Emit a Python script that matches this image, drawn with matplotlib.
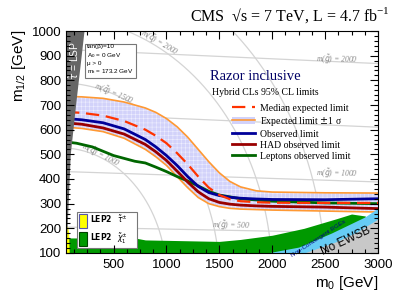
"""Razor inclusive mSUGRA exclusion plot, CMS 7 TeV 4.7 fb-1."""
import numpy as np
import matplotlib
matplotlib.use("Agg")
import matplotlib.pyplot as plt
from matplotlib.lines import Line2D
from matplotlib.patches import Patch

plt.rcParams["font.family"] = ["Liberation Sans", "DejaVu Sans"]
plt.rcParams["hatch.linewidth"] = 0.4

# limit curves (m0, m1/2) in GeV
m0_lim = [50, 200, 400, 600, 800, 900, 1000, 1100, 1200, 1300, 1400, 1500, 1600, 1700, 1850, 2000, 2500, 3000]
exp_up = [735, 733, 727, 712, 688, 670, 645, 612, 570, 520, 470, 425, 390, 368, 352, 347, 344, 343]
exp_med = [672, 668, 657, 635, 600, 575, 545, 505, 460, 410, 365, 335, 318, 310, 306, 304, 303, 303]
exp_dn = [610, 605, 592, 565, 520, 490, 455, 410, 365, 325, 300, 288, 281, 278, 276, 274, 270, 266]
obs = [645, 640, 628, 603, 560, 530, 495, 455, 410, 370, 345, 333, 326, 322, 319, 317, 316, 320]
had = [628, 622, 607, 582, 540, 510, 475, 432, 388, 348, 320, 305, 298, 294, 291, 289, 286, 280]

m0_lep = [55, 150, 300, 500, 700, 800, 900, 1000, 1100, 1200, 1300, 1400, 1500, 1700, 2000, 2500, 3000]
lep = [550, 545, 530, 495, 472, 465, 448, 430, 410, 392, 372, 350, 335, 320, 310, 303, 300]

# excluded / unphysical regions
lsp_m12 = [100, 300, 500, 700, 850, 1000]
lsp_m0 = [50, 70, 90, 140, 180, 220]
stau_m0 = [50, 85, 80, 70, 50]
stau_m12 = [100, 100, 180, 205, 210]
chi_m0 = [50, 700, 800, 1500, 1700, 2000, 2300, 2600, 2750, 2880]
chi_top = [161, 161, 153, 147, 155, 172, 200, 238, 258, 250]
rge_m0 = [1950, 2250, 2560, 2875, 3000]
rge_top = [100, 124, 181, 246, 282]
ewsb_m0 = [2300, 2600, 2800, 3000]
ewsb_top = [100, 145, 185, 238]

# iso-mass guide lines
squark_masses = [1000, 1500, 2000, 2500]
squark_coef = 3.61
gluino_masses = [500, 1000, 1500, 2000]
gluino_left = [205, 430, 665, 925]
gluino_right = [180, 388, 610, 868]

fig = plt.figure(figsize=(4.11, 2.95), dpi=100)
ax = fig.add_axes([0.1606, 0.1424, 0.7591, 0.7525])
ax.set_xlim(50, 3000)
ax.set_ylim(100, 1000)

guide = "#d4d4d4"
for q in squark_masses:
    x = np.linspace(50, q, 300)
    y = np.sqrt(np.clip(q**2 - x**2, 0, None) / squark_coef)
    ax.plot(x, y, color=guide, lw=0.9, zorder=1)
for g, yl, yr in zip(gluino_masses, gluino_left, gluino_right):
    ax.plot([50, 3000], [yl, yr], color=guide, lw=0.9, zorder=1)

lab = dict(color="#888888", fontsize=5.5, family="Liberation Serif", style="italic", zorder=1.5)
ax.text(930, 952, r"m($\tilde{q}$) = 2000", rotation=-31, ha="center", va="center", **lab)
ax.text(500, 745, r"m($\tilde{q}$) = 1500", rotation=-23, ha="center", va="center", **lab)
ax.text(380, 495, r"m($\tilde{q}$) = 1000", rotation=-27, ha="center", va="center", **lab)
ax.text(2610, 884, r"m($\tilde{g}$) = 2000", rotation=-1.5, ha="center", va="center", **lab)
ax.text(2610, 422, r"m($\tilde{g}$) = 1000", rotation=-1.5, ha="center", va="center", **lab)
ax.text(1610, 212, r"m($\tilde{g}$) = 500", rotation=-1.5, ha="center", va="center", **lab)

# expected band
band = "#d2d2fa"
ax.fill_between(m0_lim, exp_dn, exp_up, facecolor=band, edgecolor="none", zorder=2)
ax.fill_between(m0_lim, exp_dn, exp_up, facecolor="none", edgecolor="#eeeeff", hatch="++++", lw=0, zorder=2.1)
ax.plot(m0_lim, exp_up, color="#ff9933", lw=1.2, zorder=2.5)
ax.plot(m0_lim, exp_dn, color="#ff9933", lw=1.2, zorder=2.5)
ax.plot(m0_lep, lep, color="#006600", lw=2.0, zorder=3)
ax.plot(m0_lim, had, color="#990000", lw=2.0, zorder=3.1)
ax.plot(m0_lim, obs, color="#000099", lw=2.0, zorder=3.2)
ax.plot(m0_lim, exp_med, color="#ff3300", lw=1.6, dashes=(6, 3), zorder=3.3)

# regions
ax.fill_between(chi_m0, 100, chi_top, color="#009900", lw=0, zorder=4)
ax.fill_between(rge_m0, 100, rge_top, color="#66ccf5", lw=0, zorder=4.1)
ax.fill_between(ewsb_m0, 100, ewsb_top, color="#c8c8c8", lw=0, zorder=4.2)
ax.fill(stau_m0, stau_m12, color="#ffff00", lw=0, zorder=4.3)
ax.fill_betweenx(lsp_m12, 50, lsp_m0, color="#666666", lw=0, zorder=4.4)
ax.text(126, 880, r"$\tilde{\tau}$ = LSP", rotation=90, color="white", fontsize=7.5,
        ha="center", va="center", zorder=4.5)
ax.text(2440, 160, "Non-Convergent RGEs", rotation=33, color="#000088", fontsize=4.5,
        ha="center", va="center", zorder=4.5)
ax.text(2700, 150, "No EWSB", rotation=25, color="black", fontsize=8.5,
        ha="center", va="center", zorder=4.5)

# parameter box
ax.text(0.068, 0.94,
        "tan(β)=10\n$\\mathregular{A_0}$ = 0 GeV\nμ > 0\n$\\mathregular{m_t}$ = 173.2 GeV",
        transform=ax.transAxes, fontsize=4.6, va="top", ha="left", linespacing=1.25, zorder=6,
        bbox=dict(boxstyle="square,pad=0.35", facecolor="white", edgecolor="#777777", lw=0.8))

# LEP2 legend
lep_handles = [Patch(facecolor="#ffff00", edgecolor="#5555aa", lw=0.8),
               Patch(facecolor="#009900", edgecolor="#004400", lw=0.8)]
lep_leg = ax.legend(lep_handles, [r"$\mathbf{LEP2}$   $\tilde{\tau}^{\pm}$    ", r"$\mathbf{LEP2}$   $\tilde{\chi}_1^{\pm}$    "],
                    loc="lower left", bbox_to_anchor=(0.035, 0.022), fontsize=5.5, handlelength=1.1,
                    handleheight=2.5, handletextpad=0.4, labelspacing=0.45, borderpad=0.25,
                    borderaxespad=0, fancybox=False, edgecolor="#777777", framealpha=1)
lep_leg.get_frame().set_linewidth(0.8)
lep_leg.set_zorder(6)
ax.add_artist(lep_leg)

# main legend
serif = "Liberation Serif"
ax.text(0.4615, 0.797, "Razor inclusive", transform=ax.transAxes, color="#000066",
        fontsize=10.5, family=serif, va="center", ha="left", zorder=6)
ax.text(0.468, 0.721, "Hybrid CLs 95% CL limits", transform=ax.transAxes,
        fontsize=7, family=serif, va="center", ha="left", zorder=6)
handles = [Line2D([], [], color="#ff3300", lw=1.6, dashes=(6, 3)),
           (Patch(facecolor=band, edgecolor="none", hatch="++++"), Line2D([], [], color="#ff9933", lw=1.2)),
           Line2D([], [], color="#000099", lw=2.0),
           Line2D([], [], color="#990000", lw=2.0),
           Line2D([], [], color="#006600", lw=2.0)]
labels = ["Median expected limit", "Expected limit $\\pm$1 σ", "Observed limit",
          "HAD observed limit", "Leptons observed limit"]
leg = ax.legend(handles, labels, loc="upper left", bbox_to_anchor=(0.532, 0.672), frameon=False,
                prop={"family": serif, "size": 7}, handlelength=2.4, handletextpad=0.5,
                labelspacing=0.2, borderpad=0, borderaxespad=0)
leg.set_zorder(6)

# axes cosmetics
ax.set_xticks([500, 1000, 1500, 2000, 2500, 3000])
ax.set_xticks(np.arange(125, 3001, 125), minor=True)
ax.set_yticks(np.arange(100, 1001, 100))
ax.set_yticks(np.arange(100, 1001, 20), minor=True)
ax.tick_params(which="both", direction="in", top=True, right=True, labelsize=9.5, width=0.8)
ax.tick_params(which="major", length=6)
ax.tick_params(which="minor", length=3)
ax.tick_params(axis="x", pad=4)
for s in ax.spines.values():
    s.set_linewidth(0.8)
    s.set_zorder(7)
ax.xaxis.set_zorder(7)
ax.yaxis.set_zorder(7)

fig.text(0.046, 0.898, r"$\mathregular{m_{1/2}}$ [GeV]", rotation=90, fontsize=11, ha="center", va="top")
fig.text(0.9197, 0.04, r"$\mathregular{m_0}$ [GeV]", fontsize=11, ha="right", va="center")
fig.text(0.462, 0.949, "CMS  √s = 7 TeV, L = 4.7 fb$^{\\mathregular{-1}}$", family=serif,
         fontsize=11.5, ha="left", va="center")

fig.savefig("out.png", dpi=100)
